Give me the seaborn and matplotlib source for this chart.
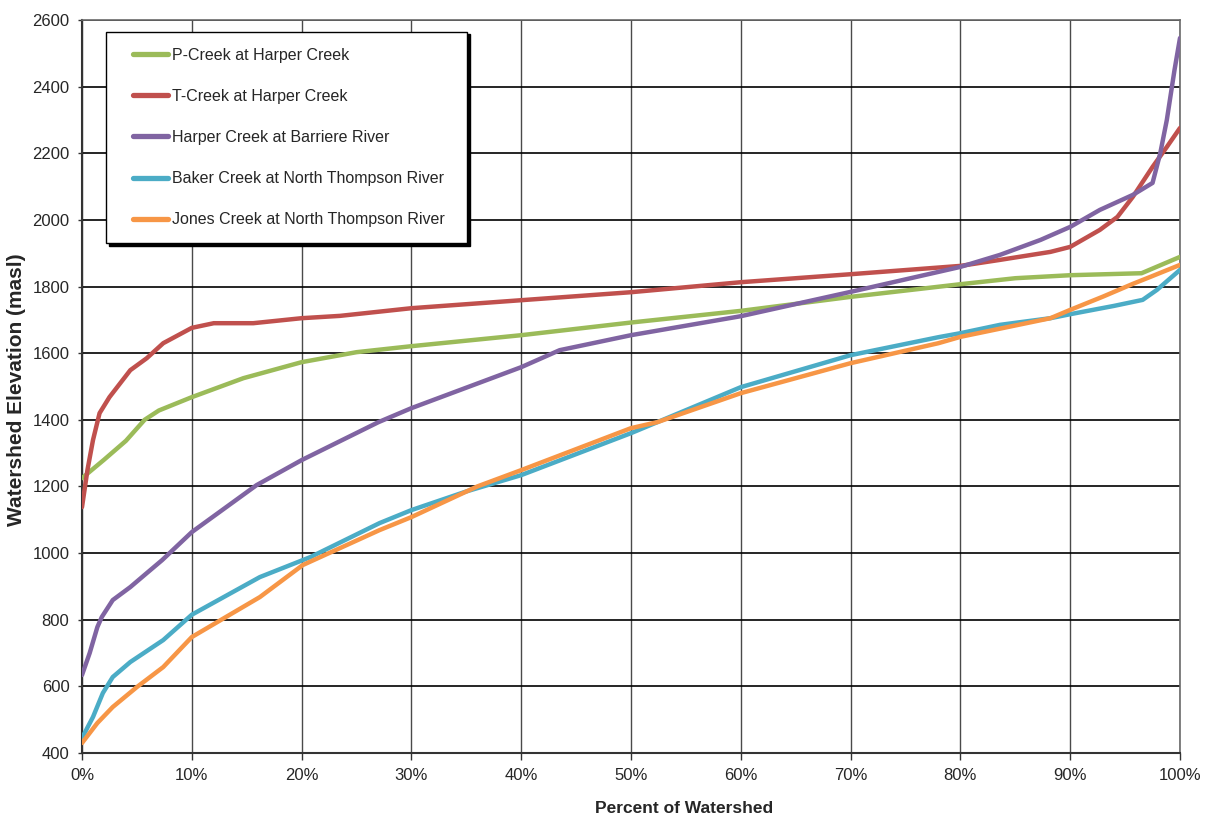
import matplotlib
matplotlib.use("Agg")
import matplotlib.pyplot as plt
from matplotlib.lines import Line2D
from matplotlib.legend_handler import HandlerLine2D
from matplotlib.ticker import FuncFormatter
import numpy as np
import seaborn as sns
import pandas as pd

# ---------------- data ----------------
series_names = [
    "P-Creek at Harper Creek",
    "T-Creek at Harper Creek",
    "Harper Creek at Barriere River",
    "Baker Creek at North Thompson River",
    "Jones Creek at North Thompson River",
]
colors = ["#9BBB59", "#C0504D", "#8064A2", "#4BACC6", "#F79646"]

p_pct = [0, 2, 4, 5.7, 7, 10, 14.7, 20, 25, 30, 40, 50, 60, 70, 80, 85, 90, 96.5, 100]
p_elev = [1225, 1280, 1337, 1400, 1428, 1468, 1525, 1573, 1603, 1621, 1654, 1692,
          1727, 1769, 1807, 1825, 1834, 1840, 1889]

t_pct = [0, 0.5, 1, 1.6, 2.5, 4.4, 5.9, 7.4, 10, 12, 15.6, 20, 23.5, 30, 40, 50, 60,
         70, 80, 83.6, 88.2, 90, 92.7, 94.3, 95.7, 97.5, 98.8, 100]
t_elev = [1138, 1250, 1339, 1420, 1468, 1549, 1585, 1630, 1676, 1690, 1690, 1705, 1712,
          1735, 1759, 1783, 1813, 1837, 1862, 1880, 1904, 1919, 1970, 2009, 2069, 2159,
          2219, 2276]

h_pct = [0, 0.7, 1.4, 1.8, 2.8, 4.4, 5.9, 7.3, 10, 15.9, 20, 27, 30, 40, 43.5, 50, 60,
         70, 78, 80, 83.6, 87.3, 90, 92.7, 95.7, 97.5, 98.2, 98.8, 99.5, 100]
h_elev = [634, 700, 778, 808, 859, 898, 940, 979, 1063, 1204, 1279, 1393, 1435, 1558,
          1609, 1654, 1711, 1784, 1844, 1859, 1895, 1940, 1979, 2030, 2075, 2111, 2200,
          2300, 2450, 2546]

b_pct = [0, 1, 1.9, 2.8, 4.4, 7.4, 10, 16.2, 20.8, 27.1, 30, 35, 40, 50, 52.4, 60, 70,
         78, 80, 83.6, 88.2, 90, 94, 96.6, 97.9, 100]
b_elev = [445, 508, 580, 628, 673, 739, 815, 928, 988, 1090, 1129, 1185, 1234, 1360,
          1393, 1498, 1594, 1648, 1660, 1685, 1705, 1717, 1742, 1760, 1790, 1850]

j_pct = [0, 1.4, 2.8, 5, 7.4, 10, 16.2, 20.1, 27.1, 30, 36, 40, 50, 52.4, 60, 70, 78,
         80, 88.2, 90, 93, 95.7, 97.3, 100]
j_elev = [430, 490, 538, 598, 658, 748, 868, 964, 1069, 1108, 1200, 1249, 1375, 1393,
          1480, 1570, 1630, 1649, 1705, 1730, 1770, 1808, 1829, 1865]

x_ticks = [0, 10, 20, 30, 40, 50, 60, 70, 80, 90, 100]
y_ticks = [400, 600, 800, 1000, 1200, 1400, 1600, 1800, 2000, 2200, 2400, 2600]

# ---------------- long-form table ----------------
frames = []
for name, xs, ys in zip(series_names,
                        [p_pct, t_pct, h_pct, b_pct, j_pct],
                        [p_elev, t_elev, h_elev, b_elev, j_elev]):
    frames.append(pd.DataFrame({"pct": xs, "elev": ys, "series": name}))
df = pd.concat(frames, ignore_index=True)

# ---------------- style ----------------
sns.set_style("white")
plt.rcParams["font.family"] = ["Liberation Sans", "DejaVu Sans"]

fig = plt.figure(figsize=(12.11, 8.23), dpi=100)
ax = fig.add_axes([82 / 1211, 1 - 753 / 823, (1180 - 82) / 1211, (753 - 20) / 823])

sns.lineplot(data=df, x="pct", y="elev", hue="series", hue_order=series_names,
             palette=colors, linewidth=3.2, estimator=None, sort=False,
             legend=False, ax=ax, zorder=3)

ax.set_xlim(0, 100)
ax.set_ylim(400, 2600)
ax.set_xticks(x_ticks)
ax.set_yticks(y_ticks)
ax.xaxis.set_major_formatter(FuncFormatter(lambda v, p: f"{int(v)}%"))

ax.grid(axis="y", color="black", linewidth=1.2, zorder=1)
ax.grid(axis="x", color="#4a4a4a", linewidth=1.0, zorder=1)
ax.set_axisbelow(True)

for side in ["left", "bottom"]:
    ax.spines[side].set_color("#333333")
    ax.spines[side].set_linewidth(1.5)
for side in ["right", "top"]:
    ax.spines[side].set_color("#6a6a6a")
    ax.spines[side].set_linewidth(1.2)

ax.tick_params(axis="y", direction="out", length=3, width=1, color="#333333",
               pad=6, labelsize=12, left=True)
ax.tick_params(axis="x", direction="out", length=5, width=1, color="#333333",
               pad=6, labelsize=12, bottom=True)

ax.set_xlabel("Percent of Watershed", fontsize=12.5, fontweight="bold")
ax.set_ylabel("Watershed Elevation (masl)", fontsize=15, fontweight="bold")
ax.xaxis.set_label_coords(0.548, -0.0655)
ax.yaxis.set_label_coords(-0.051, 0.495)


class GapHandler(HandlerLine2D):
    """Line handle drawn with a small empty gap on its left side."""
    def get_xdata(self, legend, xdescent, ydescent, width, height, fontsize):
        xd, xdm = super().get_xdata(legend, xdescent, ydescent, width, height, fontsize)
        xd = np.asarray(xd, dtype=float)
        xd[0] = xd[0] + 8.0
        return xd, xdm


handles = [Line2D([0], [0], color=c, linewidth=3.8, solid_capstyle="round")
           for c in colors]
leg = ax.legend(handles, series_names, loc="upper left",
                bbox_to_anchor=(0.0219, 0.70, 0.3287, 0.2841), mode="expand",
                frameon=True, fancybox=False,
                shadow={"color": "black", "alpha": 1.0}, framealpha=1,
                edgecolor="black", fontsize=11.5, handlelength=2.9,
                handletextpad=0.2, labelspacing=1.64, borderpad=1.0,
                borderaxespad=0, handler_map={Line2D: GapHandler()})
leg.get_frame().set_linewidth(1.0)
leg.set_zorder(5)

fig.savefig("out.png", dpi=100)
